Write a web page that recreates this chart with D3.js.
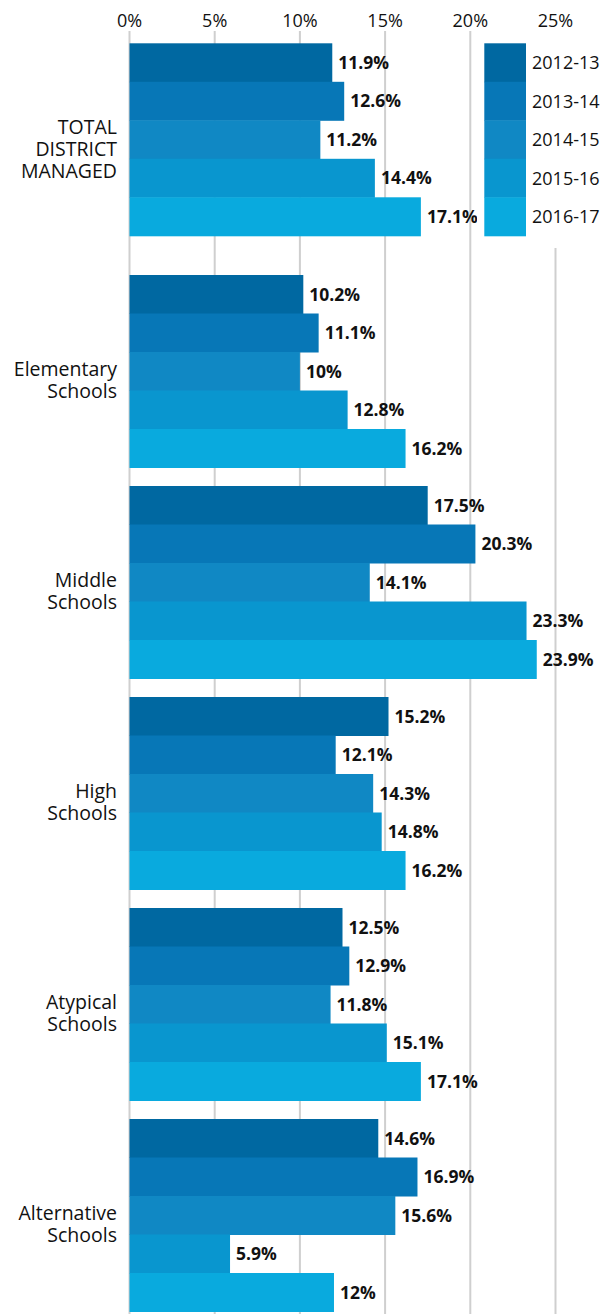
<html>
<script src="https://d3js.org/d3.v7.min.js"></script>
<head>
<style>
body { margin: 0; background: #fff; }
text { font-family: "Open Sans", sans-serif; fill: #111; }
.tick-label { font-size: 18px; }
.cat-label { font-size: 19.5px; }
.bar-label { font-size: 17.5px; font-weight: bold; }
.legend-label { font-size: 18px; }
.grid { stroke: #cfcfcf; stroke-width: 2px; }
</style>
</head>
<body>
<div id="chart"></div>
<script>
// data
var categories = ["TOTAL DISTRICT MANAGED", "Elementary Schools", "Middle Schools",
                  "High Schools", "Atypical Schools", "Alternative Schools"];
var catLines = [["TOTAL", "DISTRICT", "MANAGED"], ["Elementary", "Schools"], ["Middle", "Schools"],
                ["High", "Schools"], ["Atypical", "Schools"], ["Alternative", "Schools"]];
var years = ["2012-13", "2013-14", "2014-15", "2015-16", "2016-17"];
var colors = ["#0068a1", "#0777b7", "#1088c4", "#0996cf", "#09aade"];
var values = [
    [11.9, 12.6, 11.2, 14.4, 17.1],
    [10.2, 11.1, 10, 12.8, 16.2],
    [17.5, 20.3, 14.1, 23.3, 23.9],
    [15.2, 12.1, 14.3, 14.8, 16.2],
    [12.5, 12.9, 11.8, 15.1, 17.1],
    [14.6, 16.9, 15.6, 5.9, 12]
];
var ticks = [0, 5, 10, 15, 20, 25];

var width = 611, height = 1314;
var totalGap = 20.7; // extra space after the total row

var x = d3.scaleLinear().domain([0, 25]).range([129.5, 555.5]);
var y = d3.scaleBand().domain(categories).range([43.3, 1290.8]).paddingInner(0.0877).paddingOuter(0);
var yi = d3.scaleBand().domain(years).range([0, y.bandwidth()]);
var color = d3.scaleOrdinal().domain(years).range(colors);

function groupTop(c) {
    return y(c) + (categories.indexOf(c) > 0 ? totalGap : 0);
}

var svg = d3.select("#chart").append("svg")
    .attr("width", width)
    .attr("height", height);

// grid lines
svg.append("g").selectAll("line")
    .data(ticks)
    .enter().append("line")
    .attr("class", "grid")
    .attr("x1", d => x(d)).attr("x2", d => x(d))
    .attr("y1", 31).attr("y2", height);

// tick labels
svg.append("g").selectAll("text")
    .data(ticks)
    .enter().append("text")
    .attr("class", "tick-label")
    .attr("x", d => x(d))
    .attr("y", 27)
    .attr("text-anchor", "middle")
    .text(d => d + "%");

// bars
var groups = svg.append("g").selectAll("g")
    .data(categories)
    .enter().append("g")
    .attr("transform", d => "translate(0," + groupTop(d) + ")");

groups.selectAll("rect")
    .data((c, i) => years.map((yr, j) => ({year: yr, value: values[i][j]})))
    .enter().append("rect")
    .attr("x", x(0))
    .attr("y", d => yi(d.year))
    .attr("width", d => x(d.value) - x(0))
    .attr("height", yi.bandwidth() + 0.5)
    .attr("fill", d => color(d.year));

groups.selectAll(".bar-label")
    .data((c, i) => years.map((yr, j) => ({year: yr, value: values[i][j]})))
    .enter().append("text")
    .attr("class", "bar-label")
    .attr("x", d => x(d.value) + 6)
    .attr("y", d => yi(d.year) + yi.bandwidth() / 2)
    .attr("dy", "0.36em")
    .text(d => d.value + "%");

// category labels
groups.each(function(c, i) {
    var lines = catLines[i];
    var lh = 22;
    var mid = y.bandwidth() / 2 + 16;
    var t = d3.select(this).append("text")
        .attr("class", "cat-label")
        .attr("text-anchor", "end");
    lines.forEach((l, k) => {
        t.append("tspan")
            .attr("x", 117)
            .attr("y", mid + (k - (lines.length - 1) / 2) * lh)
            .text(l);
    });
});

// legend
var legend = svg.append("g");
legend.append("rect")
    .attr("x", 477).attr("y", 30)
    .attr("width", width - 477).attr("height", 218)
    .attr("fill", "#fff");
var ly = d3.scaleBand().domain(years).range([groupTop(categories[0]), groupTop(categories[0]) + y.bandwidth()]);
legend.selectAll(".sw")
    .data(years)
    .enter().append("rect")
    .attr("x", 484.3)
    .attr("y", d => ly(d))
    .attr("width", 41.7)
    .attr("height", ly.bandwidth() + 0.5)
    .attr("fill", d => color(d));
legend.selectAll(".legend-label")
    .data(years)
    .enter().append("text")
    .attr("class", "legend-label")
    .attr("x", 532)
    .attr("y", d => ly(d) + ly.bandwidth() / 2)
    .attr("dy", "0.36em")
    .text(d => d);
</script>
</body>
</html>
